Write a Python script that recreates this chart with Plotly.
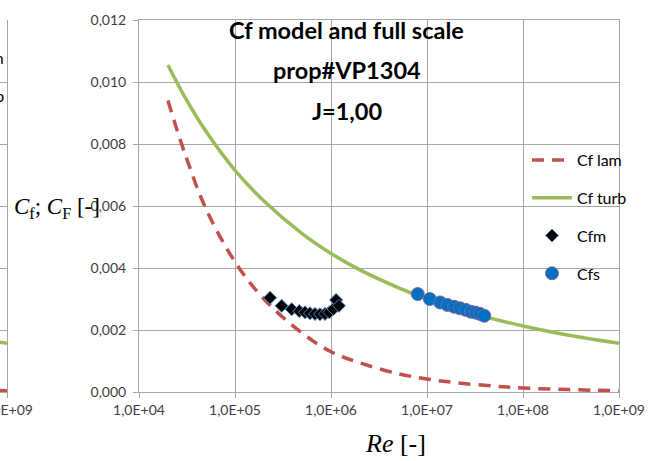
import plotly.graph_objects as go

# ---- data ----
re_curve = [2e4, 3e4, 5e4, 1e5, 2e5, 5e5, 1e6, 2e6, 5e6, 1e7, 2e7, 5e7, 1e8, 3e8, 1e9]
cf_lam = [0.0094, 0.0077, 0.0059, 0.0042, 0.0030, 0.0019, 0.0013, 0.00094, 0.00059,
          0.00042, 0.00030, 0.00019, 0.00013, 0.000077, 0.000042]
cf_turb = [0.01055, 0.00952, 0.00840, 0.00715, 0.00616, 0.00511, 0.00447, 0.00394,
           0.00337, 0.00300, 0.00270, 0.00235, 0.00213, 0.00183, 0.00157]

re_m = [2.32e5, 3.06e5, 3.90e5, 4.67e5, 5.36e5, 6.04e5, 6.81e5, 7.68e5, 8.66e5,
        9.60e5, 1.06e6, 1.13e6, 1.21e6]
cfm = [0.00304, 0.00278, 0.00267, 0.00261, 0.00257, 0.00254, 0.00252, 0.00251,
       0.00252, 0.00257, 0.00268, 0.00297, 0.00278]

re_s = [8.0e6, 1.07e7, 1.37e7, 1.63e7, 1.92e7, 2.21e7, 2.53e7, 2.87e7, 3.22e7,
        3.57e7, 3.95e7]
cfs = [0.00316, 0.00300, 0.00289, 0.00281, 0.00275, 0.00270, 0.00265, 0.00259,
       0.00256, 0.00252, 0.00246]

x_tickvals = [1e4, 1e5, 1e6, 1e7, 1e8, 1e9]
x_ticktext = ["1,0E+04", "1,0E+05", "1,0E+06", "1,0E+07", "1,0E+08", "1,0E+09"]
title_lines = ["Cf model and full scale", "prop#VP1304", "J=1,00"]

SANS = "Lato, Open Sans, sans-serif"
SERIF = "Liberation Serif, Times New Roman, serif"
GRID = "#A6A6A6"
RED = "#C0504D"
GREEN = "#9BBB59"

W, H = 653, 461
L, R, T, B = 0, 34, 20, 69
PW = W - L - R
PH = H - T - B


def px(x):
    return x / PW


def py(y):
    return (T + PH - y) / PH


fig = go.Figure()

fig.add_trace(go.Scatter(x=re_curve, y=cf_lam, mode="lines", name="Cf lam",
                         line=dict(color=RED, width=3.5, dash="12px,8px", shape="spline"),
                         legendgroup="a"))
fig.add_trace(go.Scatter(x=re_curve, y=cf_turb, mode="lines", name="Cf turb",
                         line=dict(color=GREEN, width=3.5, shape="spline"),
                         legendgroup="b"))
fig.add_trace(go.Scatter(x=re_m, y=cfm, mode="markers", name="Cfm",
                         marker=dict(symbol="diamond", size=10, color="black",
                                     line=dict(color="#4F81BD", width=1)),
                         legendgroup="c"))
fig.add_trace(go.Scatter(x=re_s, y=cfs, mode="markers", name="Cfs",
                         marker=dict(symbol="circle", size=13, color="#0070C0",
                                     line=dict(color="#8064A2", width=1)),
                         legendgroup="d"))

# fragment of the neighbouring chart at the left edge
fig.add_trace(go.Scatter(x=re_curve, y=cf_lam, mode="lines", showlegend=False,
                         line=dict(color=RED, width=3.5), xaxis="x2", yaxis="y2"))
fig.add_trace(go.Scatter(x=re_curve, y=cf_turb, mode="lines", showlegend=False,
                         line=dict(color=GREEN, width=3.5), xaxis="x2", yaxis="y2"))

annotations = []
for t, yy in zip(title_lines, [30, 70, 111]):
    annotations.append(dict(text="<b>" + t + "</b>", x=px(347), y=py(yy), xref="paper",
                            yref="paper", showarrow=False, xanchor="center",
                            yanchor="middle", font=dict(family=SANS, size=23.5, color="black")))
annotations.append(dict(text="<i>C</i><sub>f</sub>; <i>C</i><sub>F</sub> [-]",
                        x=px(12), y=py(208), xref="paper", yref="paper", showarrow=False,
                        xanchor="left", yanchor="middle",
                        font=dict(family=SERIF, size=23, color="black")))
annotations.append(dict(text="<i>Re</i> [-]", x=px(395), y=py(443), xref="paper",
                        yref="paper", showarrow=False, xanchor="center", yanchor="middle",
                        font=dict(family=SERIF, size=26, color="black")))
for t, yy in [("Cf lam", 57), ("Cf turb", 95)]:
    annotations.append(dict(text=t, x=px(6), y=py(yy), xref="paper", yref="paper",
                            showarrow=False, xanchor="right", yanchor="middle",
                            font=dict(family=SANS, size=16, color="black")))

axis_common = dict(showgrid=True, gridcolor=GRID, gridwidth=1, showline=True,
                   linecolor=GRID, linewidth=1, ticks="outside", ticklen=5,
                   tickcolor=GRID, zeroline=False, automargin=False,
                   tickfont=dict(family=SANS, size=14, color="#404040"))

fig.update_layout(
    width=W, height=H,
    margin=dict(l=L, r=R, t=T, b=B, pad=0, autoexpand=False),
    paper_bgcolor="white", plot_bgcolor="white",
    separators=", ",
    showlegend=True,
    legend=dict(x=px(527), y=py(143), xanchor="left", yanchor="top",
                bgcolor="rgba(0,0,0,0)", font=dict(family=SANS, size=16, color="black"),
                tracegroupgap=14, itemwidth=40, traceorder="grouped"),
    xaxis=dict(type="log", range=[4, 9], domain=[px(139), 1], tickvals=x_tickvals,
               ticktext=x_ticktext, mirror=True, **axis_common),
    yaxis=dict(range=[0, 0.012], dtick=0.002, tickformat=".3f", mirror=True,
               ticklabelstandoff=4, **axis_common),
    xaxis2=dict(type="log", range=[8.93, 9], domain=[0, px(7)], anchor="y2",
                tickvals=[1e9], ticktext=["1,0E+09"], ticklabeloverflow="allow",
                **axis_common),
    yaxis2=dict(range=[0, 0.012], dtick=0.002, anchor="x2", side="right",
                showticklabels=False, showgrid=True, gridcolor=GRID, showline=True,
                linecolor=GRID, zeroline=False, ticks="", automargin=False),
    annotations=annotations,
)

fig.write_html("out.html")
